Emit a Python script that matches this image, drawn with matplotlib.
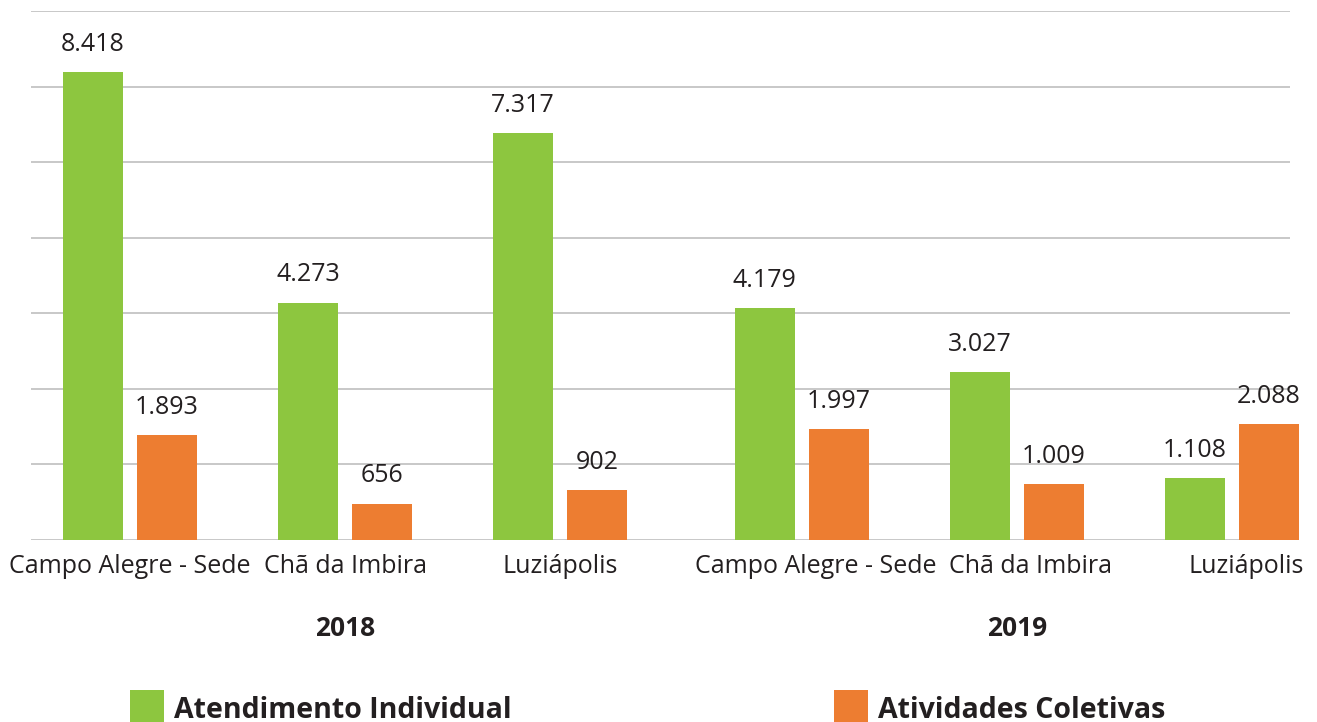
import matplotlib
matplotlib.use('Agg')
import matplotlib.pyplot as plt
from matplotlib.patches import Rectangle
from matplotlib.transforms import blended_transform_factory

matplotlib.rcParams['font.family'] = ['Open Sans', 'DejaVu Sans']

# dados
locais = ['Campo Alegre - Sede', 'Chã da Imbira', 'Luziápolis',
          'Campo Alegre - Sede', 'Chã da Imbira', 'Luziápolis']
anos = ['2018', '2019']
individual = [8418, 4273, 7317, 4179, 3027, 1108]
coletivas = [1893, 656, 902, 1997, 1009, 2088]
series = ['Atendimento Individual', 'Atividades Coletivas']

VERDE = '#8DC63F'
LARANJA = '#ED7D31'
TXT = '#231F20'
GRID = '#BFBFBF'

W, H = 1317, 722
fig = plt.figure(figsize=(W / 100, H / 100), dpi=100)
ax = fig.add_axes([31 / W, (H - 540) / H, (1305 - 31) / W, 529 / H])

gap_ano = 0.125
pos = [i + (gap_ano if i >= 3 else 0) for i in range(len(locais))]
larg = 0.279
desl = 0.172

for y in range(0, 8):
    ax.hlines(y * 1360, -0.4605, 5.395, color=GRID, lw=1.2, zorder=0)

b1 = ax.bar([p - desl for p in pos], individual, larg, color=VERDE, zorder=2)
b2 = ax.bar([p + desl for p in pos], coletivas, larg, color=LARANJA, zorder=2)

def fmt(v):
    return f'{v:,}'.replace(',', '.')

for bars, vals in ((b1, individual), (b2, coletivas)):
    for b, v in zip(bars, vals):
        ax.annotate(fmt(v), (b.get_x() + b.get_width() / 2, v),
                    xytext=(0, 11), textcoords='offset points',
                    ha='center', va='bottom', fontsize=18, color=TXT)

ax.set_xlim(-0.4605, 5.465)
ax.set_ylim(0, 9520)
ax.set_yticks([])
lbl_pos = [p + (0.065 if i >= 3 else 0) for i, p in enumerate(pos)]
ax.set_xticks(lbl_pos)
ax.set_xticklabels(locais, fontsize=18, color=TXT)
ax.tick_params(axis='x', length=0, pad=10)
for s in ax.spines.values():
    s.set_visible(False)

tr = blended_transform_factory(ax.transData, fig.transFigure)
ax.text(pos[1], 1 - 636 / H, anos[0], transform=tr, ha='center', va='baseline',
        fontsize=19, fontweight='bold', color=TXT)
ax.text(pos[4], 1 - 636 / H, anos[1], transform=tr, ha='center', va='baseline',
        fontsize=19, fontweight='bold', color=TXT)

# legenda
for x0, cor, nome in ((130, VERDE, series[0]), (834, LARANJA, series[1])):
    fig.add_artist(Rectangle((x0 / W, 0), 34 / W, 32 / H, transform=fig.transFigure,
                             color=cor, lw=0))
    fig.text((x0 + 44) / W, 4 / H, nome, fontsize=20.5, fontweight='bold',
             color=TXT, ha='left', va='baseline')

plt.savefig('out.png', dpi=100)
